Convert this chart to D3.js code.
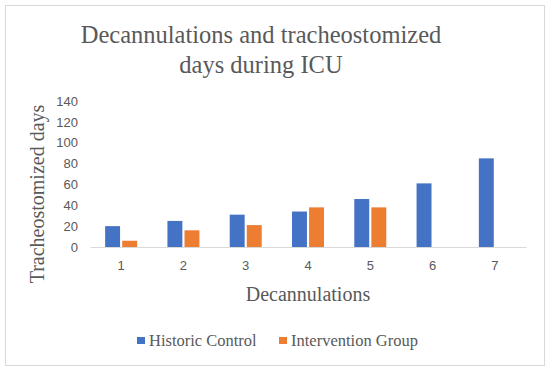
<!DOCTYPE html>
<html>
<head>
<meta charset="utf-8">
<script src="https://cdn.jsdelivr.net/npm/d3@7"></script>
<style>
  body { margin: 0; background: #fff; }
  text { fill: #595959; }
  .serif { font-family: "Liberation Serif", "Times New Roman", serif; }
</style>
</head>
<body>
<div id="chart-wrapper"></div>
<script>
// Chart data
const categories = ["1", "2", "3", "4", "5", "6", "7"];
const historicControl = [20, 25, 31, 34, 46, 61, 85];
const interventionGroup = [6, 16, 21, 38, 38, null, null];
const seriesNames = ["Historic Control", "Intervention Group"];
const yTicks = [0, 20, 40, 60, 80, 100, 120, 140];

const colors = ["#4472C4", "#ED7D31"];

const initChart = () => {
  const fullWidth = 550, fullHeight = 372;
  const margin = { top: 101, right: 24, bottom: 125, left: 90 };
  const width = fullWidth - margin.left - margin.right,
    height = fullHeight - margin.top - margin.bottom;

  const svg = d3.select("#chart-wrapper").append("svg")
    .attr("width", fullWidth)
    .attr("height", fullHeight);

  // outer frame
  svg.append("rect")
    .attr("x", 5.5).attr("y", 5.5)
    .attr("width", 539).attr("height", 360)
    .attr("fill", "#fff")
    .attr("stroke", "#d9d9d9");

  // title
  const title = svg.append("text")
    .attr("class", "serif")
    .attr("text-anchor", "middle")
    .style("font-size", "24.5px");
  title.append("tspan").attr("x", 261).attr("y", 43).text("Decannulations and tracheostomized");
  title.append("tspan").attr("x", 261).attr("y", 73).text("days during ICU");

  const g = svg.append("g").attr("transform", `translate(${margin.left},${margin.top})`);

  const xScale = d3.scaleBand()
    .domain(categories)
    .range([0, width]);

  const yScale = d3.scaleLinear()
    .domain([0, 140])
    .range([height, 0]);

  const barW = 14, gap = 4;
  const xSub = d3.scaleBand()
    .domain(seriesNames)
    .range([xScale.bandwidth() / 2 - barW - gap / 2, xScale.bandwidth() / 2 + barW + gap / 2])
    .paddingInner(gap / (2 * barW + gap));

  // y axis labels (no line)
  const yAxis = g.append("g")
    .call(d3.axisLeft(yScale).tickValues(yTicks).tickSize(0).tickPadding(12));
  yAxis.select(".domain").remove();
  yAxis.selectAll("text")
    .style("font-family", "'Liberation Sans', sans-serif")
    .style("font-size", "13px")
    .attr("fill", "#595959");

  // bars
  const data = [historicControl, interventionGroup];
  data.forEach((series, s) => {
    g.selectAll(".bar-" + s)
      .data(categories.map((c, i) => ({ c: c, v: series[i] })).filter(d => d.v != null))
      .enter()
      .append("rect")
      .attr("x", d => xScale(d.c) + xSub(seriesNames[s]))
      .attr("y", d => yScale(d.v))
      .attr("width", xSub.bandwidth())
      .attr("height", d => height - yScale(d.v))
      .attr("fill", colors[s]);
  });

  // x axis
  const xAxis = g.append("g")
    .attr("transform", `translate(0,${height})`)
    .call(d3.axisBottom(xScale).tickSize(0).tickPadding(14));
  xAxis.select(".domain").attr("stroke", "#d9d9d9");
  xAxis.selectAll("text")
    .style("font-family", "'Liberation Sans', sans-serif")
    .style("font-size", "13px")
    .attr("fill", "#595959");

  // axis titles
  svg.append("text")
    .attr("class", "serif")
    .attr("text-anchor", "middle")
    .attr("transform", "translate(44,194) rotate(-90)")
    .style("font-size", "20px")
    .text("Tracheostomized days");

  svg.append("text")
    .attr("class", "serif")
    .attr("text-anchor", "middle")
    .attr("x", 308).attr("y", 301)
    .style("font-size", "20px")
    .text("Decannulations");

  // legend
  const legendX = [137, 279];
  const legend = svg.append("g")
    .style("font-family", "'Liberation Serif', serif")
    .selectAll("g")
    .data(seriesNames)
    .enter()
    .append("g")
    .attr("transform", (d, i) => `translate(${legendX[i]},340.5)`);
  legend.append("rect")
    .attr("x", 0).attr("y", -3.5)
    .attr("width", 8).attr("height", 7)
    .attr("fill", (d, i) => colors[i]);
  legend.append("text")
    .attr("x", 12).attr("y", 5)
    .style("font-family", "'Liberation Serif', serif")
    .style("font-size", "16.5px")
    .text(d => d);
};

window.onload = () => {
  initChart();
};
</script>
</body>
</html>
